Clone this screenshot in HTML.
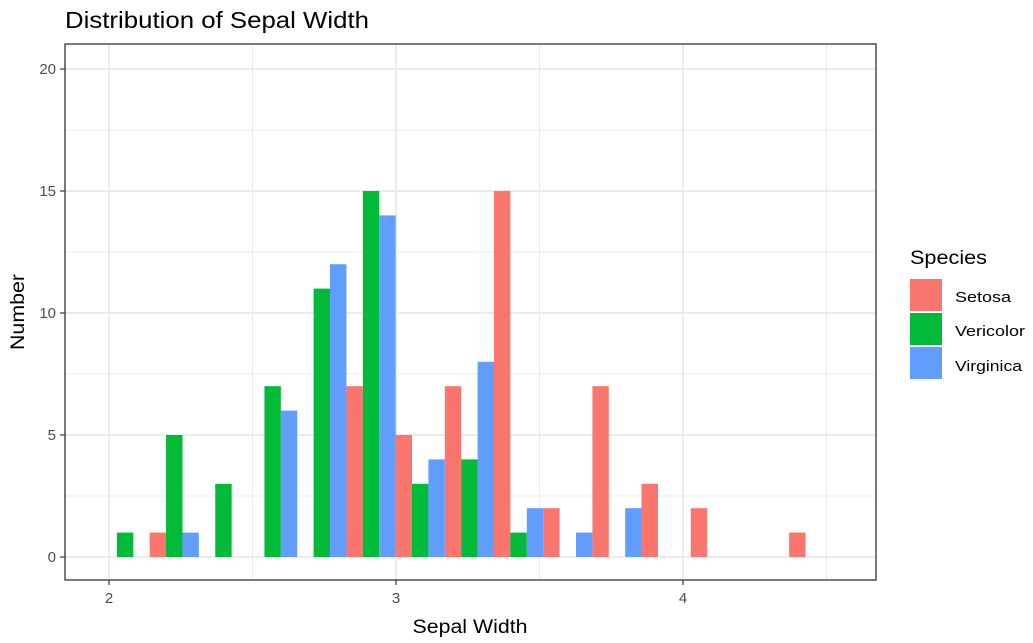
<!DOCTYPE html>
<html><head><meta charset="utf-8"><style>
body{margin:0;background:#fff;}
svg{display:block;font-family:"Liberation Sans",Arial,sans-serif;}
</style></head><body>
<svg id="chart" width="1033" height="643" viewBox="0 0 1033 643">
<text x="65" y="28" font-size="23" textLength="304" lengthAdjust="spacingAndGlyphs" fill="#000">Distribution of Sepal Width</text>
<g id="grid"></g>
<g id="bars"></g>
<rect x="65" y="44" width="811" height="536" fill="none" stroke="#333" stroke-width="1.3"/>
<g id="axes"></g>
<text x="470" y="633" font-size="19" textLength="115" lengthAdjust="spacingAndGlyphs" text-anchor="middle" fill="#000">Sepal Width</text>
<text transform="translate(24,312) rotate(-90)" font-size="19" textLength="76" lengthAdjust="spacingAndGlyphs" text-anchor="middle" fill="#000">Number</text>
<g>
<text x="910" y="264" font-size="19" textLength="77" lengthAdjust="spacingAndGlyphs" fill="#000">Species</text>
<rect x="910" y="279" width="32" height="32" fill="#F8766D"/>
<text x="955" y="302" font-size="15" textLength="56" lengthAdjust="spacingAndGlyphs" fill="#000">Setosa</text>
<rect x="910" y="313" width="32" height="32" fill="#00BA38"/>
<text x="955" y="336" font-size="15" textLength="70" lengthAdjust="spacingAndGlyphs" fill="#000">Vericolor</text>
<rect x="910" y="347" width="32" height="32" fill="#619CFF"/>
<text x="955" y="371" font-size="15" textLength="67" lengthAdjust="spacingAndGlyphs" fill="#000">Virginica</text>
</g>
</svg>
<script>
const binStart = 2.056;
const binWidth = 0.1714;
const setosa    = [0,1,0,0,0,7,5,7,15,2,7,3,2,0,1];
const vericolor = [1,5,3,7,11,15,3,4,1,0,0,0,0,0,0];
const virginica = [0,1,0,6,12,14,4,8,2,1,2,0,0,0,0];
const xTicks = [2,3,4];
const yTicks = [0,5,10,15,20];
const xMinor = [2.5,3.5,4.5];
const yMinor = [2.5,7.5,12.5,17.5];

const X = v => 109 + (v-2)*287;
const Y = v => 557 - v*24.4;
const NS='http://www.w3.org/2000/svg';
function mk(tag, attrs, parent){const e=document.createElementNS(NS,tag);for(const k in attrs)e.setAttribute(k,attrs[k]);parent.appendChild(e);return e;}
const grid=document.getElementById('grid'), bars=document.getElementById('bars'), axes=document.getElementById('axes');
xMinor.forEach(v=>{const l=mk('line',{x1:X(v),x2:X(v),y1:44,y2:580,stroke:'#EBEBEB','stroke-width':1},grid);

});
yMinor.forEach(v=>{const l=mk('line',{x1:65,x2:876,y1:Y(v),y2:Y(v),stroke:'#EBEBEB','stroke-width':1},grid);

});
xTicks.forEach(v=>{const l=mk('line',{x1:X(v),x2:X(v),y1:44,y2:580,stroke:'#EBEBEB','stroke-width':2},grid);


const t=mk('line',{x1:X(v),x2:X(v),y1:580,y2:585,stroke:'#333','stroke-width':1.2},axes);


const tx=mk('text',{x:X(v),y:603,'font-size':15,'text-anchor':'middle',fill:'#4D4D4D'},axes);tx.textContent=v;

});
yTicks.forEach(v=>{const l=mk('line',{x1:65,x2:876,y1:Y(v),y2:Y(v),stroke:'#EBEBEB','stroke-width':2},grid);


const t=mk('line',{x1:60,x2:65,y1:Y(v),y2:Y(v),stroke:'#333','stroke-width':1.2},axes);


const tx=mk('text',{x:56,y:Y(v)+5,'font-size':15,'text-anchor':'end',fill:'#4D4D4D'},axes);tx.textContent=v;

});
const series=[[setosa,'#F8766D','setosa'],[vericolor,'#00BA38','vericolor'],[virginica,'#619CFF','virginica']];
const bw=binWidth/3;
series.forEach((s,si)=>{s[0].forEach((v,i)=>{if(!v)return;
const c=binStart+i*binWidth+(si-1)*bw;
const r=mk('rect',{x:X(c-bw/2),y:Y(v),width:X(c+bw/2)-X(c-bw/2),height:Y(0)-Y(v),fill:s[1]},bars);

});});
</script>
</body></html>
